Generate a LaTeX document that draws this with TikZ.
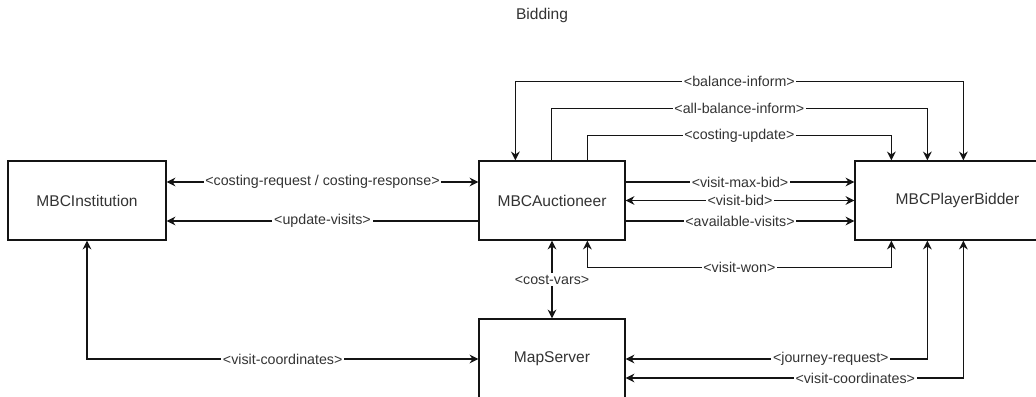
\documentclass[tikz,border=0pt]{standalone}
\usepackage{fontspec}
\setmainfont{Liberation Sans}
\usepackage{xcolor}
\definecolor{ink}{RGB}{20,20,20}
\definecolor{text-dark}{RGB}{51,51,51}
\usepackage{tikz}
\usetikzlibrary{arrows.meta,positioning}

\begin{document}
\begin{tikzpicture}[
    agent/.style={draw=ink, line width=0.75pt, fill=white, minimum height=1.58cm,
        text=text-dark, font=\fontsize{8.85}{10.5}\selectfont},
    msg/.style={fill=white, inner sep=1pt, text=text-dark,
        font=\fontsize{8.1}{9.7}\selectfont},
    link/.style={draw=ink, line width=0.75pt, >={Stealth[length=5pt,width=5pt]}}
]

% Page size
\useasboundingbox (0,0) rectangle (20.72,-7.94);

% Title
\node[font=\fontsize{8.85}{10.5}\selectfont, text=text-dark] (title) at (10.84,-0.3) {Bidding};

% Agents
\node[agent, minimum width=3.16cm] (inst) at (1.74,-4.01) {MBCInstitution};
\node[agent, minimum width=2.92cm] (auct) at (11.04,-4.01) {MBCAuctioneer};
\node[agent, minimum width=4.1cm] (bidder) at (19.15,-4.01) {MBCPlayerBidder};
\node[agent, minimum width=2.92cm, minimum height=1.6cm] (map) at (11.04,-7.18) {MapServer};

% Institution <-> Auctioneer
\draw[link, <->] ([yshift=0.37cm]inst.east) -- node[msg] {<costing-request / costing-response>} ([yshift=0.37cm]auct.west);
\draw[link, <-] ([yshift=-0.41cm]inst.east) -- node[msg] {<update-visits>} ([yshift=-0.41cm]auct.west);

% Auctioneer <-> PlayerBidder, straight
\draw[link, ->] ([yshift=0.37cm]auct.east) -- node[msg] {<visit-max-bid>} ([yshift=0.37cm]bidder.west);
\draw[link, <->] (auct.east) -- node[msg] {<visit-bid>} (bidder.west);
\draw[link, ->] ([yshift=-0.41cm]auct.east) -- node[msg] {<available-visits>} ([yshift=-0.41cm]bidder.west);

% Auctioneer <-> PlayerBidder, over the top
\draw[link, <->] ([xshift=0.74cm]auct.north west) -- ++(0,1.58) -| node[msg, pos=0.25] {<balance-inform>} ([xshift=2.18cm]bidder.north west);
\draw[link, ->] ([xshift=1.46cm]auct.north west) -- ++(0,1.04) -| node[msg, pos=0.25] {<all-balance-inform>} ([xshift=1.46cm]bidder.north west);
\draw[link, ->] ([xshift=2.18cm]auct.north west) -- ++(0,0.5) -| node[msg, pos=0.25] {<costing-update>} ([xshift=0.74cm]bidder.north west);

% Auctioneer <-> PlayerBidder, underneath
\draw[link, <->] ([xshift=2.18cm]auct.south west) -- ++(0,-0.54) -| node[msg, pos=0.25] {<visit-won>} ([xshift=0.74cm]bidder.south west);

% MapServer links
\draw[link, <->] (auct.south) -- node[msg] {<cost-vars>} (map.north);
\draw[link, <->] (inst.south) |- node[msg, pos=0.75] {<visit-coordinates>} (map.west);
\draw[link, <->] ([xshift=1.46cm]bidder.south west) |- node[msg, pos=0.66] {<journey-request>} (map.east);
\draw[link, <->] ([xshift=2.18cm]bidder.south west) |- node[msg, pos=0.66] {<visit-coordinates>} ([yshift=-0.38cm]map.east);

\end{tikzpicture}
\end{document}
